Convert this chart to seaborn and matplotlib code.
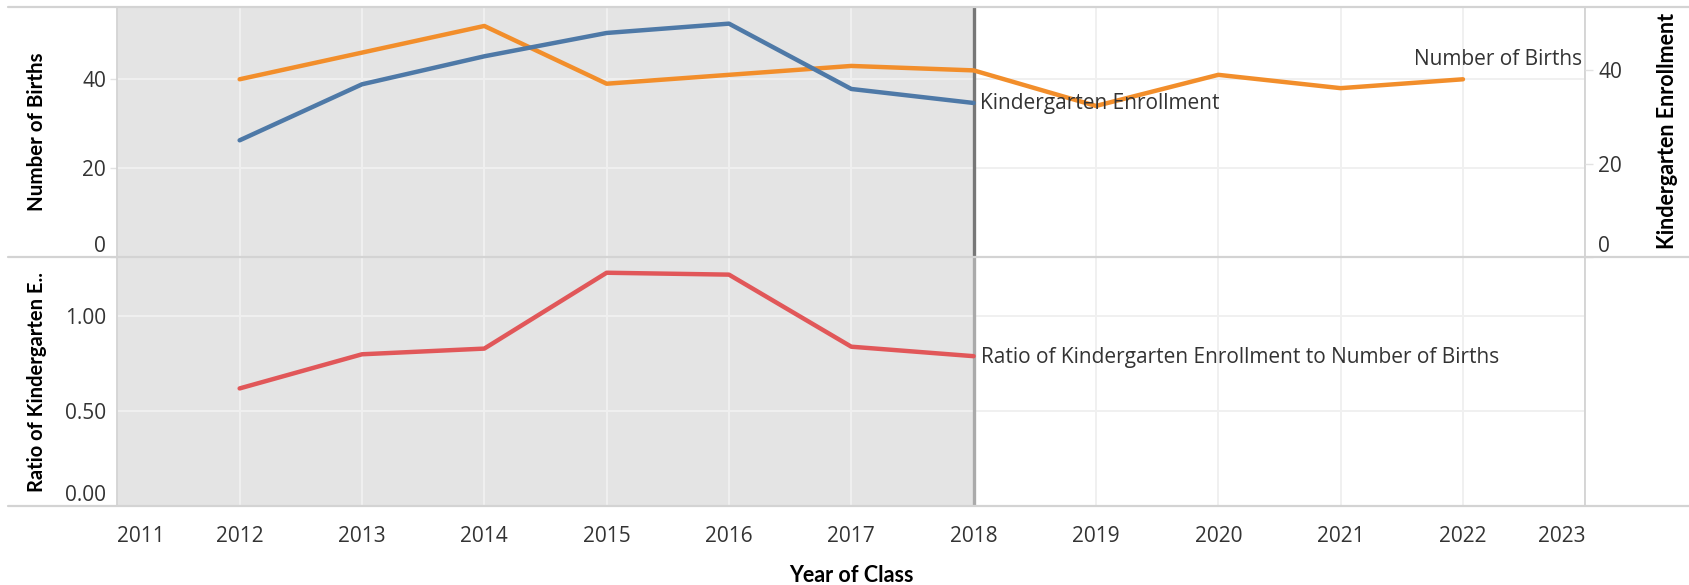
import matplotlib
matplotlib.use("Agg")
import matplotlib.pyplot as plt
import seaborn as sns
import pandas as pd
from matplotlib.lines import Line2D

# ---------------- data ----------------
birth_years = [2012, 2013, 2014, 2015, 2016, 2017, 2018, 2019, 2020, 2021, 2022]
births = [40, 46, 52, 39, 41, 43, 42, 34, 41, 38, 40]
enroll_years = [2012, 2013, 2014, 2015, 2016, 2017, 2018]
enrollment = [25, 37, 43, 48, 50, 36, 33]
ratio = [0.62, 0.80, 0.83, 1.23, 1.22, 0.84, 0.79]
x_ticks = list(range(2011, 2024))
count_ticks = [0, 20, 40]
ratio_ticks = [0.0, 0.5, 1.0]
ratio_tick_labels = ["0.00", "0.50", "1.00"]
cutoff_year = 2018

births_df = pd.DataFrame({"Year of Class": birth_years, "Number of Births": births})
enroll_df = pd.DataFrame({"Year of Class": enroll_years, "Kindergarten Enrollment": enrollment,
                          "Ratio": ratio})

# ---------------- style ----------------
sns.set_style("white")
plt.rcParams["font.family"] = ["Open Sans", "DejaVu Sans"]

ORANGE = "#F28E2B"
BLUE = "#4E79A7"
RED = "#E15759"
SHADE = "#e4e4e4"
GRID = "#f0f0f0"
BORDER = "#d3d3d3"
TXT = "#333333"
FS = 15
TITLE_FONT = ["Lato", "DejaVu Sans"]

W, H = 1690, 585
fig = plt.figure(figsize=(W / 100, H / 100), dpi=100)


def rect(l, t, r, b):
    return [l / W, 1 - b / H, (r - l) / W, (b - t) / H]


ax_top = fig.add_axes(rect(117.3, 7.3, 1585.3, 257))
ax_bot = fig.add_axes(rect(117.3, 257, 1585.3, 506))
ax_r = ax_top.twinx()

for ax in (ax_top, ax_bot):
    ax.axvspan(x_ticks[0], cutoff_year, color=SHADE, zorder=0, lw=0)
    ax.set_xlim(x_ticks[0], x_ticks[-1])
    ax.set_xticks(x_ticks)
    ax.grid(True, color=GRID, lw=1.4, zorder=0.5)
    ax.set_axisbelow(True)
    for s in ("top", "bottom"):
        ax.spines[s].set_visible(False)
    for s in ("left", "right"):
        ax.spines[s].set_color(BORDER)
        ax.spines[s].set_linewidth(1.3)

ax_top.axvline(cutoff_year, color="#777777", lw=2.4, zorder=1.8)
ax_bot.axvline(cutoff_year, color="#aaaaaa", lw=2.4, zorder=1.8)

for s in ax_r.spines.values():
    s.set_visible(False)

# ---------------- lines ----------------
sns.lineplot(data=births_df, x="Year of Class", y="Number of Births", ax=ax_top,
             color=ORANGE, linewidth=3.2, zorder=3)
sns.lineplot(data=enroll_df, x="Year of Class", y="Kindergarten Enrollment", ax=ax_r,
             color=BLUE, linewidth=3.2, zorder=3)
sns.lineplot(data=enroll_df, x="Year of Class", y="Ratio", ax=ax_bot,
             color=RED, linewidth=3.2, zorder=3)

for ln in ax_top.lines + ax_r.lines + ax_bot.lines:
    ln.set_solid_capstyle("round")

# ---------------- axes ----------------
ax_top.set_ylim(0, 56.2)
ax_r.set_ylim(0, 53.5)
ax_bot.set_ylim(0, 1.313)
ax_r.set_xlim(x_ticks[0], x_ticks[-1])

ax_top.set_yticks(count_ticks)
ax_top.set_yticklabels([str(v) for v in count_ticks])
ax_r.set_yticks(count_ticks)
ax_r.set_yticklabels([str(v) for v in count_ticks])
ax_bot.set_yticks(ratio_ticks)
ax_bot.set_yticklabels(ratio_tick_labels)
ax_bot.set_xticklabels([str(v) for v in x_ticks])

for ax in (ax_top, ax_r, ax_bot):
    ax.set_xlabel("")
    ax.set_ylabel("")

ax_top.tick_params(axis="x", length=0, labelbottom=False)
ax_top.tick_params(axis="y", length=5, width=1, color="#e2e2e2", pad=3, labelsize=FS, labelcolor=TXT)
ax_r.tick_params(axis="y", length=6, width=1, color="#e2e2e2", pad=3.5, labelsize=FS, labelcolor=TXT)
ax_bot.tick_params(axis="y", length=5, width=1, color="#e2e2e2", pad=3, labelsize=FS, labelcolor=TXT)
ax_bot.tick_params(axis="x", length=6.5, width=1, color="#e2e2e2", pad=8, labelsize=FS, labelcolor=TXT)

xl = ax_bot.get_xticklabels()
xl[0].set_ha("left")
xl[-1].set_ha("right")
for ax in (ax_top, ax_r, ax_bot):
    ax.get_yticklabels()[0].set_va("bottom")

# ---------------- labels ----------------
ax_r.annotate("Kindergarten Enrollment", xy=(enroll_years[-1], enrollment[-1]),
              xytext=(6, -1), textcoords="offset pixels", ha="left", va="center",
              fontsize=FS, color=TXT, zorder=5)
ax_top.annotate("Number of Births", xy=(birth_years[-1], births[-1]),
                xytext=(119, 20), textcoords="offset pixels", ha="right", va="center",
                fontsize=FS, color=TXT, zorder=5)
ax_bot.annotate("Ratio of Kindergarten Enrollment to Number of Births",
                xy=(enroll_years[-1], ratio[-1]), xytext=(7, -1.5),
                textcoords="offset pixels", ha="left", va="center",
                fontsize=FS, color=TXT, zorder=5)

fig.text(37 / W, 1 - 132 / H, "Number of Births", rotation=90, ha="center", va="center",
         fontsize=14.8, fontweight="bold", color="black", family=TITLE_FONT)
fig.text(37 / W, 1 - 382 / H, "Ratio of Kindergarten E..", rotation=90, ha="center",
         va="center", fontsize=14.5, fontweight="bold", color="black", family=TITLE_FONT)
fig.text(1668 / W, 1 - 131 / H, "Kindergarten Enrollment", rotation=90, ha="center",
         va="center", fontsize=15.5, fontweight="bold", color="black", family=TITLE_FONT)
fig.text(851 / W, 1 - 575 / H, "Year of Class", ha="center", va="center",
         fontsize=15.5, fontweight="bold", color="black", family=TITLE_FONT)

# ---------------- separators ----------------
for y in (7.3, 257, 506):
    fig.add_artist(Line2D([8 / W, 1], [1 - y / H, 1 - y / H], color=BORDER, lw=1.6))

fig.savefig("out.png", dpi=100)
